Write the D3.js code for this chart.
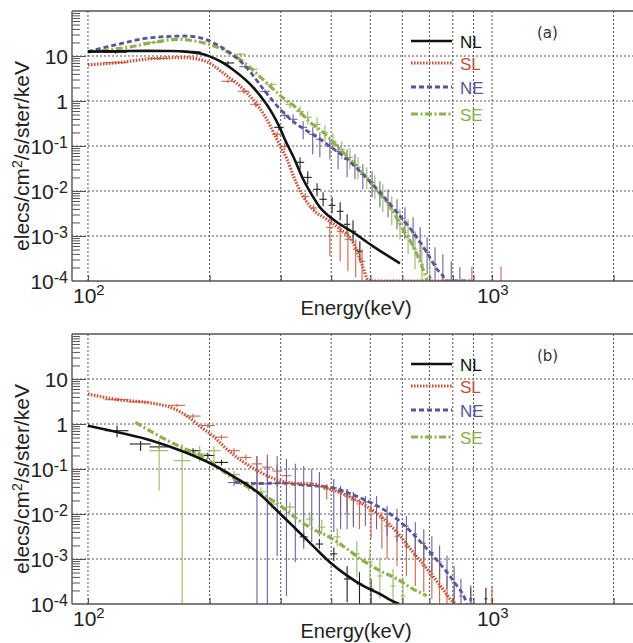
<!DOCTYPE html>
<html><head><meta charset="utf-8">
<script src="https://cdn.jsdelivr.net/npm/d3@7"></script>
<style>body{margin:0;background:#fff}svg{display:block}</style>
</head><body>
<svg id="chart" width="633" height="643"></svg>
<script>
// ---------- data ----------
const seriesNames = ["NL", "SL", "NE", "SE"];
const xGridValues = [100, 200, 300, 400, 500, 600, 700, 800, 900, 1000, 2000];
const xTickValues = [100, 1000];
const xTickBases = ["10", "10"];
const xTickExps = ["2", "3"];
const yTickValues = [10, 1, 0.1, 0.01, 0.001, 0.0001];
const yTickBases = ["10", "1", "10", "10", "10", "10"];
const yTickExps = ["", "", "-1", "-2", "-3", "-4"];
const binHalfWidth = 8; // keV, half width of the energy bins (horizontal error bars)
const panelLabels = ["(a)", "(b)"];

// panel (a) fitted curves: [energy keV, flux]
const a_NL = [[100,12.5],[120,12.8],[140,13.0],[161,12.9],[175,12.5],[190,11.3],[200,9.8],[215,7.2],[231,4.64],[259,1.82],[285,0.561],[299,0.247],[307,0.141],[322,0.059],[341,0.0182],[360,0.00762],[375,0.00434],[404,0.00235],[453,0.00121],[508,5.9e-4],[592,2.47e-4]];
const a_SL = [[100,6.4],[118.6,7.13],[144,8.75],[174,9.2],[195,7.74],[218,3.92],[245,1.67],[274,0.464],[302,0.0845],[311,0.0506],[325,0.0182],[341,0.00762],[360,0.00392],[390,0.00235],[421,0.00141],[453,7.2e-4],[479,2.1e-4],[493,1.05e-4],[500,1e-4],[897,1e-4]];
const a_NE = [[100,12.5],[118.6,18.2],[144,25.6],[174,27.8],[195,23.5],[218,14.1],[245,6.0],[274,1.67],[299,0.654],[329,0.303],[360,0.182],[397,0.0985],[438,0.0506],[479,0.0235],[528,0.00936],[582,0.00336],[638,0.00121],[690,4.3e-4],[731,1.82e-4],[756,1.27e-4],[765,1e-4],[882,1e-4]];
const a_SE = [[100,12.3],[131,16.7],[144,19.8],[167,23.5],[184,21.5],[210,15.4],[231,10],[255,5.06],[279,2.35],[307,1.09],[331,0.654],[348,0.392],[382,0.201],[421,0.0845],[463,0.0354],[508,0.0127],[559,0.00457],[602,0.00141],[638,5.9e-4],[671,2.1e-4],[690,1.05e-4]];

// panel (a) measured points: [energy keV, flux, flux low, flux high]
const a_NL_err = [[117,12.1,11.2,13.0],[150,13.0,12.2,13.8],[182,12.4,11.6,13.2],[222,7.0,6.4,7.6],[297,0.26,0.22,0.31],[335,0.0434,0.0304,0.0561],[350,0.0201,0.0141,0.0274],[369,0.0109,0.0076,0.0148],[382,0.00654,0.00457,0.0094],[402,0.00481,0.00319,0.00724],[421,0.00354,0.00223,0.00559],[438,0.00182,0.00109,0.00303],[453,0.00127,7.2e-4,0.00223],[471,4.57e-4,2.74e-4,7.6e-4]];
const a_SL_err = [[117,7.1,6.6,7.6],[150,8.8,8.2,9.4],[222,2.74,2.5,3.0],[243,1.64,1.45,1.85],[260,0.845,0.74,0.96],[294,0.182,0.155,0.21],[307,0.0985,0.082,0.118],[345,0.0075,0.0062,0.009],[362,0.0042,0.0034,0.0051],[397,0.00155,3.54e-4,0.00233],[421,0.00127,2.74e-4,0.00182],[440,8.45e-4,1.64e-4,0.00127],[460,5.06e-4,1.21e-4,8.45e-4],[477,2.74e-4,1e-4,5.06e-4],[892,1e-4,1e-4,2.1e-4],[1053,1e-4,1e-4,2.1e-4]];
const a_NE_err = [[245,5.8,5.3,6.3],[274,1.64,1.5,1.8],[307,0.481,0.392,0.59],[322,0.392,0.303,0.506],[341,0.26,0.141,0.354],[360,0.182,0.0655,0.26],[375,0.141,0.0561,0.202],[397,0.0985,0.0506,0.141],[416,0.0763,0.0303,0.109],[438,0.0506,0.0201,0.0845],[458,0.0373,0.0182,0.0655],[479,0.0235,0.0109,0.0392],[505,0.0156,0.00724,0.0274],[528,0.00936,0.00434,0.0164],[553,0.00561,0.0026,0.0109],[582,0.00336,0.00141,0.00654],[609,0.00202,8.45e-4,0.00434],[638,0.00121,5.06e-4,0.0026],[664,7.24e-4,2.74e-4,0.00156],[691,4.34e-4,1.41e-4,9.36e-4],[723,2.35e-4,1e-4,5.61e-4],[756,1.34e-4,1e-4,3.92e-4],[793,1e-4,1e-4,2.74e-4],[833,1e-4,1e-4,2.01e-4]];
const a_SE_err = [[145,20,18.5,21.5],[238,10.9,10,11.8],[255,5.06,4.6,5.5],[285,2.35,2.1,2.6],[316,0.845,0.69,1.04],[335,0.59,0.457,0.763],[350,0.434,0.303,0.59],[369,0.303,0.212,0.434],[386,0.202,0.121,0.288],[404,0.127,0.0845,0.192],[425,0.0845,0.0506,0.127],[445,0.0561,0.0303,0.0889],[466,0.0336,0.0182,0.0561],[490,0.0201,0.0109,0.0336],[513,0.0121,0.00654,0.0223],[537,0.00724,0.00336,0.0141],[565,0.00392,0.00173,0.00762],[592,0.00192,8.45e-4,0.00392],[620,9.85e-4,3.92e-4,0.00235],[645,5.06e-4,1.82e-4,0.00127],[671,2.35e-4,1e-4,6.55e-4],[702,1.21e-4,1e-4,3.92e-4]];

// panel (b) fitted curves
const b_NL = [[100,0.92],[118.6,0.654],[144,0.426],[174,0.235],[200,0.136],[231,0.0655],[263,0.0303],[294,0.0118],[327,0.00464],[360,0.00198],[397,8.45e-4],[438,4.26e-4],[479,2.55e-4],[528,1.67e-4],[575,1.09e-4],[590,1e-4]];
const b_SL = [[100,4.64],[118.6,3.47],[142,2.95],[162,2.25],[177,1.45],[190,0.86],[205,0.52],[218,0.303],[240,0.153],[263,0.0917],[290,0.06],[320,0.0489],[360,0.0464],[397,0.036],[438,0.0255],[479,0.0167],[528,0.00917],[582,0.00392],[638,0.00141],[702,5.06e-4],[756,2.15e-4],[801,1.09e-4],[810,1e-4]];
const b_NE = [[231,0.0506],[267,0.0476],[299,0.049],[330,0.045],[360,0.0425],[397,0.0392],[438,0.0303],[479,0.0215],[528,0.0141],[582,0.00774],[638,0.0036],[702,0.00141],[774,5.06e-4],[819,2.55e-4],[858,1.29e-4],[866,1e-4]];
const b_SE = [[131,1.09],[152,0.506],[174,0.278],[191,0.198],[218,0.0844],[245,0.0425],[274,0.0255],[307,0.0129],[329,0.00774],[360,0.00464],[397,0.00303],[438,0.00167],[479,9.17e-4],[528,5.5e-4],[582,3.6e-4],[638,2.15e-4],[690,1.53e-4]];

// panel (b) measured points
const b_NL_err = [[118,0.71,0.51,0.92],[135,0.36,0.25,0.42],[150,0.31,0.28,0.34],[182,0.255,0.22,0.29],[198,0.2,0.17,0.23],[214,0.14,0.12,0.16],[342,0.0031,0.0024,0.004],[374,0.00215,0.0017,0.0028],[406,0.0013,9e-4,0.0018],[438,3.6e-4,1.1e-4,7e-4],[470,2.8e-4,1e-4,5.1e-4],[502,2.15e-4,1e-4,3.6e-4],[886,1.3e-4,1e-4,2.3e-4],[966,1.3e-4,1e-4,2.3e-4]];
const b_SL_err = [[118,3.47,3.2,3.75],[134,3.1,2.9,3.35],[166,2.6,2.4,2.8],[182,1.5,1.35,1.7],[198,0.92,0.82,1.03],[214,0.51,0.45,0.57],[230,0.255,0.22,0.29],[246,0.18,0.155,0.21],[262,0.13,0.03,0.195],[278,0.11,0.05,0.15],[294,0.09,0.04,0.125],[310,0.071,0.03,0.1],[390,0.036,0.021,0.046],[422,0.031,0.013,0.042],[438,0.025,0.01,0.036],[454,0.0205,0.006,0.031],[470,0.0167,0.0046,0.0215],[502,0.0117,0.0028,0.0167],[534,0.0081,0.0017,0.011],[550,0.0054,0.001,0.009],[582,0.0032,7e-4,0.0066],[614,0.00195,4.2e-4,0.0046],[646,0.00117,2.5e-4,0.0032],[678,7e-4,1.85e-4,0.0024],[710,4e-4,1.3e-4,0.0014],[742,2.4e-4,1e-4,7e-4],[774,1.5e-4,1e-4,4.2e-4],[806,1.1e-4,1e-4,2.6e-4],[1000,1.2e-4,1e-4,2.5e-4]];
const b_NE_err = [[230,0.05,0.042,0.06],[262,0.047,1e-4,0.195],[278,0.047,1e-4,0.21],[294,0.048,0.00117,0.195],[310,0.048,1.5e-4,0.167],[326,0.047,8.6e-4,0.13],[342,0.045,0.0017,0.117],[358,0.043,0.0024,0.1],[374,0.041,0.0032,0.086],[406,0.038,0.004,0.06],[422,0.0325,0.0046,0.042],[438,0.028,0.0046,0.036],[454,0.024,0.0051,0.031],[486,0.0186,0.0054,0.025],[518,0.015,0.0046,0.025],[550,0.01,0.0032,0.015],[582,0.0077,0.0024,0.013],[614,0.0054,0.0017,0.009],[646,0.0036,0.0012,0.0066],[678,0.0022,8.6e-4,0.0046],[710,0.0014,5.1e-4,0.0032],[742,8.6e-4,3.6e-4,0.002],[774,5.1e-4,2.15e-4,0.0012],[806,3e-4,1.3e-4,7e-4],[838,1.5e-4,1e-4,3.6e-4],[886,1.2e-4,1e-4,2.6e-4]];
const b_SE_err = [[150,0.255,0.033,0.46],[171,0.153,1e-4,0.36],[189,0.215,0.143,0.325],[205,0.255,0.143,0.325],[230,0.075,0.06,0.09],[250,0.042,0.033,0.052],[268,0.031,0.024,0.04],[285,0.0167,0.013,0.022],[316,0.0143,0.011,0.018],[354,0.0077,0.0055,0.011],[379,0.0051,0.0035,0.0075],[414,0.0031,0.0019,0.0048],[463,0.0013,4e-4,0.0025],[499,8.6e-4,2.2e-4,0.0017],[528,4.2e-4,1.3e-4,0.0011],[569,2.5e-4,1e-4,6e-4],[602,1.5e-4,1e-4,4e-4]];

// ---------- styles ----------
const lineColor = {NL:"#111111", SL:"#c8553a", NE:"#5b5594", SE:"#8db24e"};
const errColor = {NL:"#222222", SL:"#c9674c", NE:"#6a649c", SE:"#98b860"};
const lineWidth = {NL:2.6, SL:3.2, NE:2.8, SE:3.2};
const lineDash = {NL:null, SL:"1.6,1.4", NE:"5,3", SE:"7,2.5,2,2.5"};
const textColor = {NL:"#111111", SL:"#c0503a", NE:"#5b5594", SE:"#88ad4a"};

const FONT = "'Liberation Sans', Arial, Helvetica, sans-serif";
const svg = d3.select("#chart");
const left = 72, right = 660;

const panels = [
  {top: 11, bottom: 281, curves: {NL:a_NL, SL:a_SL, NE:a_NE, SE:a_SE},
   errs: {NL:a_NL_err, SL:a_SL_err, NE:a_NE_err, SE:a_SE_err}, label: panelLabels[0]},
  {top: 334, bottom: 604, curves: {NL:b_NL, SL:b_SL, NE:b_NE, SE:b_SE},
   errs: {NL:b_NL_err, SL:b_SL_err, NE:b_NE_err, SE:b_SE_err}, label: panelLabels[1]}
];

const x = d3.scaleLog().domain([91.3, 2606]).range([left, right]);

panels.forEach((p, pi) => {
  const y = d3.scaleLog().domain([1e-4, 1e2]).range([p.bottom, p.top]);
  const g = svg.append("g");
  const clipId = "clip" + pi;
  svg.append("clipPath").attr("id", clipId).append("rect")
    .attr("x", left).attr("y", p.top).attr("width", right - left).attr("height", p.bottom - p.top);

  // grid
  g.append("g").selectAll("line").data(xGridValues).join("line")
    .attr("x1", d => x(d)).attr("x2", d => x(d)).attr("y1", p.top).attr("y2", p.bottom)
    .attr("stroke", "#555").attr("stroke-width", 1).attr("stroke-dasharray", "2,2");
  g.append("g").selectAll("line").data([1e-3, 1e-2, 1e-1, 1, 10]).join("line")
    .attr("x1", left).attr("x2", right).attr("y1", d => y(d)).attr("y2", d => y(d))
    .attr("stroke", "#555").attr("stroke-width", 1).attr("stroke-dasharray", "2,2");

  // error bars
  const eg = g.append("g").attr("clip-path", `url(#${clipId})`);
  seriesNames.forEach(s => {
    const sg = eg.append("g").attr("stroke", errColor[s]).attr("stroke-width", 1.1);
    sg.selectAll("line.h").data(p.errs[s]).join("line").attr("class", "h")
      .attr("x1", d => x(d[0] - binHalfWidth)).attr("x2", d => x(d[0] + binHalfWidth))
      .attr("y1", d => y(d[1])).attr("y2", d => y(d[1]));
    sg.selectAll("line.v").data(p.errs[s]).join("line").attr("class", "v")
      .attr("x1", d => x(d[0])).attr("x2", d => x(d[0]))
      .attr("y1", d => y(d[2])).attr("y2", d => y(d[3]));
  });

  // curves
  const cg = g.append("g").attr("clip-path", `url(#${clipId})`);
  const line = d3.line().x(d => x(d[0])).y(d => y(d[1])).curve(d3.curveMonotoneX);
  ["SE", "NE", "SL", "NL"].forEach(s => {
    cg.append("path").datum(p.curves[s]).attr("d", line)
      .attr("fill", "none").attr("stroke", lineColor[s]).attr("stroke-width", lineWidth[s])
      .attr("stroke-dasharray", lineDash[s]);
  });

  // frame
  g.append("line").attr("x1", left).attr("x2", right).attr("y1", p.top).attr("y2", p.top)
    .attr("stroke", "#555").attr("stroke-width", 1.4);
  g.append("line").attr("x1", left).attr("x2", right).attr("y1", p.bottom).attr("y2", p.bottom)
    .attr("stroke", "#555").attr("stroke-width", 1.4);
  g.append("line").attr("x1", left).attr("x2", left).attr("y1", p.top).attr("y2", p.bottom)
    .attr("stroke", "#555").attr("stroke-width", 1.4);

  // y axis ticks (inward, log minor ticks)
  const yMinor = [];
  for (let e = -4; e < 2; e++) for (let m = 2; m <= 9; m++) yMinor.push(m * Math.pow(10, e));
  const axMinor = d3.axisRight(y).tickValues(yMinor).tickSize(8).tickFormat("");
  const axMajor = d3.axisRight(y).tickValues([1e-3, 1e-2, 1e-1, 1, 10]).tickSize(14).tickFormat("");
  [axMinor, axMajor].forEach(ax => {
    const a = g.append("g").attr("transform", `translate(${left},0)`).call(ax);
    a.select(".domain").remove();
    a.selectAll("line").attr("stroke", "#555").attr("stroke-width", 1);
  });
  // x axis ticks (inward)
  const axX = d3.axisTop(x).tickValues(xGridValues).tickSize(6).tickFormat("");
  const ax = g.append("g").attr("transform", `translate(0,${p.bottom})`).call(axX);
  ax.select(".domain").remove();
  ax.selectAll("line").attr("stroke", "#555").attr("stroke-width", 1.2);

  // y tick labels
  yTickValues.forEach((v, i) => {
    const t = g.append("text").attr("x", 68).attr("y", y(v) + 7.5)
      .attr("text-anchor", "end").attr("font-family", FONT).attr("font-size", 21).attr("fill", "#222");
    t.append("tspan").text(yTickBases[i]);
    if (yTickExps[i]) t.append("tspan").attr("dy", -6).attr("font-size", 16).text(yTickExps[i]);
  });
  // x tick labels
  xTickValues.forEach((v, i) => {
    const t = g.append("text").attr("x", x(v) - 15).attr("y", p.bottom + 22)
      .attr("font-family", FONT).attr("font-size", 21).attr("fill", "#222");
    t.append("tspan").text(xTickBases[i]);
    t.append("tspan").attr("dy", -8).attr("font-size", 15).text(xTickExps[i]);
  });

  // axis titles
  g.append("text").attr("x", 356).attr("y", p.bottom + 34).attr("text-anchor", "middle")
    .attr("font-family", FONT).attr("font-size", 20).attr("fill", "#222").text("Energy(keV)");
  const cy = (p.top + p.bottom) / 2 + 10;
  const yt = g.append("text").attr("transform", `translate(29,${cy}) rotate(-90)`)
    .attr("text-anchor", "middle").attr("font-family", FONT).attr("font-size", 21).attr("fill", "#222");
  yt.append("tspan").text("elecs/cm");
  yt.append("tspan").attr("dy", -7).attr("font-size", 14).text("2");
  yt.append("tspan").attr("dy", 7).text("/s/ster/keV");

  // panel label
  g.append("text").attr("x", 537).attr("y", p.top + 27)
    .attr("font-family", "'DejaVu Sans', Verdana, sans-serif").attr("font-size", 15).attr("fill", "#333")
    .text(p.label);

  // legend
  const legOffsets = [0, 22, 46, 73];
  seriesNames.forEach((s, i) => {
    const ly = p.top + 30 + legOffsets[i];
    g.append("line").attr("x1", 411).attr("x2", 452).attr("y1", ly).attr("y2", ly)
      .attr("stroke", lineColor[s]).attr("stroke-width", lineWidth[s]).attr("stroke-dasharray", lineDash[s]);
    g.append("text").attr("x", 460).attr("y", ly + 6.5)
      .attr("font-family", FONT).attr("font-size", 17).attr("fill", textColor[s]).text(s);
  });
});
</script>
</body></html>
